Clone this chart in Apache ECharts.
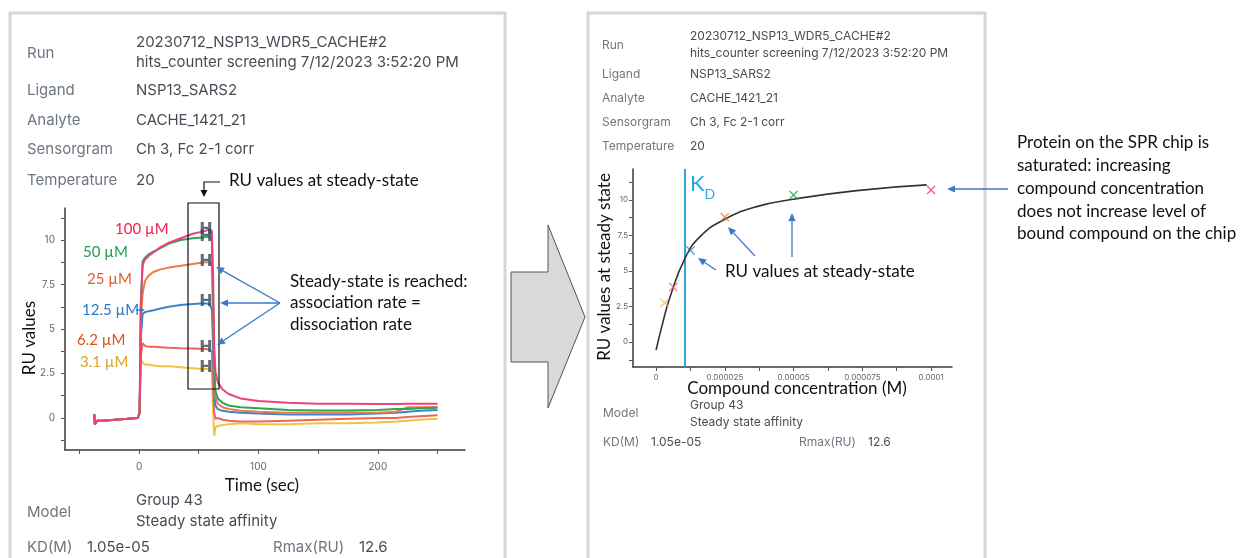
<!DOCTYPE html>
<html>
<head>
<meta charset="utf-8">
<script src="https://cdn.jsdelivr.net/npm/echarts@6.0.0/dist/echarts.min.js"></script>
<style>
  html, body { margin: 0; padding: 0; background: #fff; }
  #chart { width: 1250px; height: 558px; }
</style>
</head>
<body>
<div id="chart"></div>
<script>
// sensorgram (left) - time in seconds, response in RU
const timeSec = [-37.5, -37, -35, -30, -20, -10, -1, 0.5, 1.5, 3, 5, 8, 12, 18, 25, 35, 45, 55, 59, 61, 62, 63, 64, 66, 70, 75, 85, 100, 125, 150, 175, 200, 215, 225, 235, 250]
const ru100 = [0.2, -0.35, -0.15, -0.15, -0.1, -0.05, 0.0, 0.3, 6.5, 8.6, 8.9, 9.1, 9.3, 9.6, 9.85, 10.1, 10.35, 10.5, 10.6, 10.5, 8.0, 4.0, 2.6, 2.0, 1.6, 1.35, 1.1, 0.95, 0.85, 0.8, 0.8, 0.78, 0.78, 0.8, 0.8, 0.8]
const ru50 = [0.2, -0.35, -0.15, -0.15, -0.1, -0.05, 0.0, 0.3, 6.3, 8.8, 9.0, 9.2, 9.35, 9.55, 9.8, 10.0, 10.1, 10.15, 10.2, 10.0, 7.0, 3.0, 1.5, 1.1, 0.85, 0.7, 0.6, 0.55, 0.45, 0.42, 0.42, 0.45, 0.5, 0.5, 0.55, 0.58]
const ru25 = [0.2, -0.35, -0.15, -0.15, -0.1, -0.05, 0.0, 0.3, 5.5, 7.0, 7.7, 8.0, 8.2, 8.35, 8.45, 8.55, 8.65, 8.75, 8.75, 8.6, 6.0, 2.5, 1.2, 0.8, 0.6, 0.5, 0.4, 0.35, 0.3, 0.3, 0.3, 0.3, 0.35, 0.6, 0.6, 0.62]
const ru12 = [0.2, -0.35, -0.15, -0.15, -0.1, -0.05, 0.0, 0.3, 4.5, 5.85, 5.95, 6.0, 6.05, 6.15, 6.25, 6.35, 6.4, 6.45, 6.4, 6.1, 4.0, 1.5, 0.7, 0.5, 0.4, 0.35, 0.3, 0.25, 0.2, 0.2, 0.2, 0.25, 0.3, 0.35, 0.4, 0.45]
const ru6 = [0.2, -0.35, -0.15, -0.15, -0.1, -0.05, 0.0, 0.3, 3.5, 4.2, 4.05, 4.0, 4.0, 3.98, 3.95, 3.92, 3.9, 3.87, 3.85, 3.7, 2.0, 0.3, -0.05, 0.0, -0.1, -0.15, -0.2, -0.2, -0.15, -0.1, -0.05, 0.0, 0.0, 0.05, 0.1, 0.15]
const ru3 = [0.2, -0.35, -0.15, -0.15, -0.1, -0.05, 0.0, 0.3, 3.3, 3.1, 3.0, 3.0, 2.95, 2.9, 2.9, 2.85, 2.8, 2.75, 2.75, 2.6, 0.5, -1.0, -0.5, -0.45, -0.4, -0.35, -0.3, -0.35, -0.35, -0.3, -0.3, -0.25, -0.2, -0.15, -0.1, -0.05]
const concLabels = ['100 µM', '50 µM', '25 µM', '12.5 µM', '6.2 µM', '3.1 µM']
const steadyTime = 56

// steady state affinity (right)
const concM = [3.125e-6, 6.25e-6, 1.25e-5, 2.5e-5, 5e-5, 1e-4]
const steadyRU = [2.75, 3.87, 6.45, 8.8, 10.35, 10.7]
const fitConc = [0, 2.07e-6, 5.1e-6, 1.05e-5, 1.6e-5, 2.45e-5, 3.66e-5, 4.99e-5, 7.29e-5, 9.84e-5]
const fitRU = [-0.56, 1.08, 3.19, 5.89, 7.42, 8.59, 9.53, 10.05, 10.66, 11.06]
const kdM = 1.05e-5

const leftTimeTicks = [-50, 0, 50, 100, 150, 200, 250]
const leftTimeLabels = [0, 100, 200]
const ruTicks = [-1.25, 0, 1.25, 2.5, 3.75, 5, 6.25, 7.5, 8.75, 10, 11.25]
const ruLabels = [0, 2.5, 5, 7.5, 10]
const concTicks = [0, 1.25e-5, 2.5e-5, 3.75e-5, 5e-5, 6.25e-5, 7.5e-5, 8.75e-5, 1e-4]
const concTickLabels = [0, 2.5e-5, 5e-5, 7.5e-5, 1e-4]

const lineColors = ['#f0407a', '#2aa656', '#f07848', '#3a86c8', '#f26262', '#efc53f']
const labelColors = ['#f21e4a', '#1fa04f', '#e0602a', '#2a7ac4', '#d8531e', '#d9a32a']
const ptColors = ['#e8c040', '#f06464', '#3070b0', '#f07040', '#22a050', '#f03070']

const chart = echarts.init(document.getElementById('chart'))

const ruSeries = [ru100, ru50, ru25, ru12, ru6, ru3]
const sensorSeries = ruSeries.map((arr, i) => ({
  type: 'line',
  xAxisIndex: 0,
  yAxisIndex: 0,
  symbol: 'none',
  z: 10 - i,
  lineStyle: { color: lineColors[i], width: 2 },
  data: timeSec.map((t, k) => [t, arr[k]])
})).reverse()

const hIdx = timeSec.indexOf(55)
const hSeries = {
  type: 'scatter',
  xAxisIndex: 0,
  yAxisIndex: 0,
  symbolSize: 1,
  z: 20,
  itemStyle: { color: 'transparent' },
  label: {
    show: true,
    position: 'inside',
    formatter: 'H',
    fontFamily: 'DejaVu Sans',
    fontWeight: 'bold',
    fontSize: 16,
    color: '#3a4858'
  },
  data: ruSeries.map(arr => [steadyTime, arr[hIdx] + 0.05])
}

const xMark = 'path://M0,1L1,0L5,4L9,0L10,1L6,5L10,9L9,10L5,6L1,10L0,9L4,5Z'

const ptSeries = concM.map((c, i) => ({
  type: 'scatter',
  xAxisIndex: 1,
  yAxisIndex: 1,
  symbol: xMark,
  symbolSize: 9,
  z: 20,
  itemStyle: { color: ptColors[i] },
  data: [[c, steadyRU[i]]]
}))

const fitSeries = {
  type: 'line',
  xAxisIndex: 1,
  yAxisIndex: 1,
  symbol: 'none',
  smooth: true,
  z: 10,
  lineStyle: { color: '#333', width: 1.6 },
  data: fitConc.map((c, k) => [c, fitRU[k]]),
  markLine: {
    symbol: 'none',
    silent: true,
    precision: 10,
    label: { show: false },
    lineStyle: { color: '#2fa6d8', width: 2, type: 'solid' },
    data: [{ xAxis: kdM }]
  }
}

const axisLineStyle = { color: '#3a3a3a', width: 1.5 }
const tickStyle = { color: '#555', width: 1 }

// ---- graphic helpers
function txt(x, y, text, font, fill) {
  return {
    type: 'text', x: x, y: y, z: 100,
    style: { text: text, font: font, fill: fill, verticalAlign: 'middle', align: 'left' }
  }
}
function arrow(x1, y1, x2, y2, color, head) {
  const h = head || 8
  const a = Math.atan2(y2 - y1, x2 - x1)
  const bx = x2 - h * Math.cos(a)
  const by = y2 - h * Math.sin(a)
  const w = h * 0.45
  return {
    type: 'group', z: 100,
    children: [
      { type: 'line', z: 100, shape: { x1: x1, y1: y1, x2: bx, y2: by }, style: { stroke: color, lineWidth: 1.3 } },
      { type: 'polygon', z: 100, shape: { points: [[x2, y2], [bx - w * Math.sin(a), by + w * Math.cos(a)], [bx + w * Math.sin(a), by - w * Math.cos(a)]] }, style: { fill: color } }
    ]
  }
}

const labFontL = '15px Inter'
const labFontR = '12px Inter'
const labCol = '#6e7781'
const valCol = '#474d55'
const annFont = '17px Lato'
const blue = '#3a78c8'

const graphics = [
  // panel frames
  { type: 'rect', z: 1, shape: { x: 10, y: 13, width: 495, height: 560 }, style: { fill: 'none', stroke: '#d3d6da', lineWidth: 3 } },
  { type: 'rect', z: 1, shape: { x: 588, y: 13, width: 397, height: 560 }, style: { fill: 'none', stroke: '#d3d6da', lineWidth: 3 } },
  // big gray arrow between panels
  { type: 'polygon', z: 1, shape: { points: [[511, 272], [548, 272], [548, 225], [585, 317], [548, 408], [548, 362], [511, 362]] }, style: { fill: '#d9d9d9', stroke: '#555', lineWidth: 1 } },

  // left panel info
  txt(27, 53, 'Run', labFontL, labCol),
  txt(136, 42, '20230712_NSP13_WDR5_CACHE#2', labFontL, valCol),
  txt(136, 62, 'hits_counter screening 7/12/2023 3:52:20 PM', labFontL, valCol),
  txt(27, 90, 'Ligand', labFontL, labCol), txt(136, 90, 'NSP13_SARS2', labFontL, valCol),
  txt(27, 120, 'Analyte', labFontL, labCol), txt(136, 120, 'CACHE_1421_21', labFontL, valCol),
  txt(27, 149, 'Sensorgram', labFontL, labCol), txt(136, 149, 'Ch 3, Fc 2-1 corr', labFontL, valCol),
  txt(27, 180, 'Temperature', labFontL, labCol), txt(136, 180, '20', labFontL, valCol),
  txt(27, 512, 'Model', labFontL, labCol),
  txt(136, 500, 'Group 43', labFontL, valCol),
  txt(136, 521, 'Steady state affinity', labFontL, valCol),
  txt(27, 547, 'KD(M)', labFontL, labCol), txt(87, 547, '1.05e-05', labFontL, valCol),
  txt(273, 547, 'Rmax(RU)', labFontL, labCol), txt(359, 547, '12.6', labFontL, valCol),

  // left axis names
  { type: 'text', z: 100, x: 262, y: 486, style: { text: 'Time (sec)', font: '17px Lato', fill: '#111', align: 'center', verticalAlign: 'middle' } },
  { type: 'text', z: 100, x: 30, y: 338, rotation: Math.PI / 2, style: { text: 'RU values', font: '17px Lato', fill: '#111', align: 'center', verticalAlign: 'middle' } },

  // concentration labels
  txt(115, 229, concLabels[0], '15px Lato', labelColors[0]),
  txt(83, 252, concLabels[1], '15px Lato', labelColors[1]),
  txt(87, 279, concLabels[2], '15px Lato', labelColors[2]),
  txt(82, 310, concLabels[3], '15px Lato', labelColors[3]),
  txt(77, 340, concLabels[4], '15px Lato', labelColors[4]),
  txt(80, 362, concLabels[5], '15px Lato', labelColors[5]),
  arrow(136, 310, 145, 310, labelColors[3], 5),

  // steady-state box and annotations (left)
  { type: 'rect', z: 100, shape: { x: 188, y: 203, width: 31, height: 186 }, style: { fill: 'none', stroke: '#111', lineWidth: 1.2 } },
  { type: 'polyline', z: 100, shape: { points: [[220, 182], [204, 182], [204, 191]] }, style: { stroke: '#111', lineWidth: 1.2, fill: 'none' } },
  { type: 'polygon', z: 100, shape: { points: [[204, 197], [200.5, 190], [207.5, 190]] }, style: { fill: '#111' } },
  txt(229, 181, 'RU values at steady-state', annFont, '#111'),
  txt(290, 282, 'Steady-state is reached:', annFont, '#111'),
  txt(290, 303, 'association rate =', annFont, '#111'),
  txt(290, 325, 'dissociation rate', annFont, '#111'),
  arrow(280, 303, 216, 267, blue),
  arrow(280, 303, 220, 303, blue),
  arrow(280, 303, 217, 345, blue),

  // right panel info
  txt(602, 45, 'Run', labFontR, labCol),
  txt(690, 36, '20230712_NSP13_WDR5_CACHE#2', labFontR, valCol),
  txt(690, 53, 'hits_counter screening 7/12/2023 3:52:20 PM', labFontR, valCol),
  txt(602, 74, 'Ligand', labFontR, labCol), txt(690, 74, 'NSP13_SARS2', labFontR, valCol),
  txt(602, 98, 'Analyte', labFontR, labCol), txt(690, 98, 'CACHE_1421_21', labFontR, valCol),
  txt(602, 122, 'Sensorgram', labFontR, labCol), txt(690, 122, 'Ch 3, Fc 2-1 corr', labFontR, valCol),
  txt(602, 146, 'Temperature', labFontR, labCol), txt(690, 146, '20', labFontR, valCol),
  txt(603, 413, 'Model', labFontR, labCol),
  txt(690, 405, 'Group 43', labFontR, valCol),
  txt(690, 422, 'Steady state affinity', labFontR, valCol),
  txt(603, 442, 'KD(M)', labFontR, labCol), txt(651, 442, '1.05e-05', labFontR, valCol),
  txt(799, 442, 'Rmax(RU)', labFontR, labCol), txt(868, 442, '12.6', labFontR, valCol),

  // right axis names
  { type: 'text', z: 100, x: 797, y: 389, style: { text: 'Compound concentration (M)', font: '17px Lato', fill: '#111', align: 'center', verticalAlign: 'middle' } },
  { type: 'text', z: 100, x: 605, y: 267, rotation: Math.PI / 2, style: { text: 'RU values at steady state', font: '17px Lato', fill: '#111', align: 'center', verticalAlign: 'middle' } },

  // KD label
  { type: 'text', z: 100, x: 690, y: 184, style: { text: '{k|K}{d|D}', rich: { k: { fontSize: 22, fontFamily: 'Lato', fill: '#27a6de', verticalAlign: 'bottom' }, d: { fontSize: 14, fontFamily: 'Lato', fill: '#27a6de', verticalAlign: 'bottom', padding: [0, 0, -6, 0] } }, verticalAlign: 'middle' } },

  // right annotations
  txt(725, 272, 'RU values at steady-state', annFont, '#111'),
  arrow(716, 270, 698, 258, blue),
  arrow(755, 256, 728, 227, blue),
  arrow(792, 257, 792, 213, blue),
  arrow(1008, 189, 947, 189, blue),
  txt(1017, 143, 'Protein on the SPR chip is', annFont, '#111'),
  txt(1017, 166, 'saturated: increasing', annFont, '#111'),
  txt(1017, 189, 'compound concentration', annFont, '#111'),
  txt(1017, 212, 'does not increase level of', annFont, '#111'),
  txt(1017, 234, 'bound compound on the chip', annFont, '#111')
]

const options = {
  animation: false,
  backgroundColor: '#fff',
  grid: [
    { left: 65, top: 208, width: 400, height: 242 },
    { left: 633, top: 169, width: 319, height: 198 }
  ],
  xAxis: [
    {
      type: 'value', gridIndex: 0, min: -62, max: 273,
      splitLine: { show: false },
      axisLine: { show: true, onZero: false, lineStyle: axisLineStyle },
      axisTick: { show: true, customValues: leftTimeTicks, length: 4, lineStyle: tickStyle },
      axisLabel: { customValues: leftTimeLabels, fontSize: 10, color: '#666', margin: 12, fontFamily: 'Inter' }
    },
    {
      type: 'value', gridIndex: 1, min: -8.4e-6, max: 1.076e-4,
      splitLine: { show: false },
      axisLine: { show: true, onZero: false, lineStyle: axisLineStyle },
      axisTick: { show: true, customValues: concTicks, length: 4, lineStyle: tickStyle },
      axisLabel: { customValues: concTickLabels, fontSize: 8, color: '#666', margin: 7, fontFamily: 'Inter', formatter: v => String(v) }
    }
  ],
  yAxis: [
    {
      type: 'value', gridIndex: 0, min: -1.8, max: 11.8,
      splitLine: { show: false },
      axisLine: { show: true, onZero: false, lineStyle: axisLineStyle },
      axisTick: { show: true, customValues: ruTicks, length: 4, lineStyle: tickStyle },
      axisLabel: { customValues: ruLabels, fontSize: 10, color: '#666', margin: 10, fontFamily: 'Inter' }
    },
    {
      type: 'value', gridIndex: 1, min: -1.76, max: 12.18,
      splitLine: { show: false },
      axisLine: { show: true, onZero: false, lineStyle: axisLineStyle },
      axisTick: { show: true, customValues: ruTicks, length: 4, lineStyle: tickStyle },
      axisLabel: { customValues: ruLabels, fontSize: 8, color: '#666', margin: 5, fontFamily: 'Inter' }
    }
  ],
  series: sensorSeries.concat([hSeries, fitSeries]).concat(ptSeries),
  graphic: graphics
}

chart.setOption(options)
</script>
</body>
</html>
